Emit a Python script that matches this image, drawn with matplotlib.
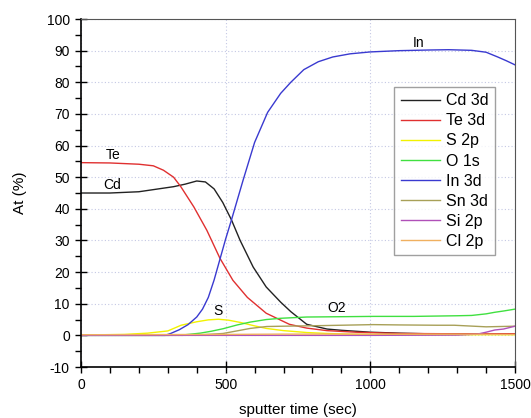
import matplotlib
matplotlib.use("Agg")
import matplotlib.pyplot as plt
from matplotlib.ticker import MultipleLocator

plt.rcParams['font.family'] = ['Liberation Sans', 'DejaVu Sans']
plt.rcParams['axes.unicode_minus'] = False

# sputter time (sec) / atomic %
cd_t = [0, 100, 200, 320, 360, 400, 430, 460, 490, 520, 550, 595, 640, 690, 725, 780, 850, 900, 1000, 1100, 1200, 1300, 1400, 1500]
cd_v = [45, 45, 45.4, 47, 47.8, 48.8, 48.5, 46.3, 42, 36.5, 30, 21.6, 15.3, 10.5, 7.5, 3.5, 2, 1.6, 1, 0.7, 0.5, 0.5, 0.4, 0.4]

te_t = [0, 100, 200, 250, 285, 320, 345, 390, 435, 480, 525, 575, 640, 720, 780, 850, 950, 1100, 1300, 1500]
te_v = [54.6, 54.5, 54.1, 53.6, 52.2, 50, 47, 40.6, 33.2, 24.4, 17.4, 12, 7, 3.5, 2.3, 1.5, 1, 0.6, 0.5, 0.5]

s_t = [0, 150, 230, 300, 346, 400, 440, 475, 510, 550, 600, 640, 700, 780, 850, 950, 1100, 1300, 1500]
s_v = [0.1, 0.3, 0.7, 1.4, 3.2, 4.3, 4.9, 5.1, 4.8, 4.1, 3, 2.2, 1.5, 0.9, 0.6, 0.3, 0.2, 0.2, 0.2]

o_t = [0, 300, 360, 412, 450, 491, 540, 585, 640, 690, 780, 900, 1010, 1150, 1300, 1350, 1400, 1430, 1460, 1500]
o_v = [0, 0, 0.2, 0.7, 1.3, 2.1, 3.3, 4.2, 5, 5.4, 5.8, 5.9, 6.0, 6.0, 6.2, 6.3, 6.8, 7.3, 7.7, 8.3]

in_t = [0, 290, 310, 340, 370, 400, 420, 440, 460, 480, 500, 520, 560, 600, 645, 690, 725, 770, 820, 870, 930, 1000, 1100, 1200, 1270, 1350, 1400, 1440, 1470, 1500]
in_v = [0, 0, 0.6, 1.8, 3.4, 5.8, 8.3, 12, 17.5, 24, 30.5, 36.5, 49, 61, 70.5, 76.5, 80, 84, 86.5, 88, 89, 89.6, 90, 90.2, 90.3, 90.1, 89.5, 88, 86.8, 85.5]

sn_t = [0, 350, 420, 491, 550, 585, 642, 700, 840, 1010, 1100, 1230, 1290, 1400, 1450, 1500]
sn_v = [0, 0, 0.2, 0.6, 1.6, 2.2, 2.8, 2.9, 3.1, 3.4, 3.3, 3.2, 3.2, 2.7, 2.8, 2.9]

si_t = [0, 1000, 1300, 1370, 1400, 1430, 1460, 1500]
si_v = [0, 0, 0.1, 0.4, 1, 1.7, 2.0, 2.9]

cl_t = [0, 500, 700, 1000, 1300, 1500]
cl_v = [0.2, 0.3, 0.4, 0.4, 0.4, 0.3]

fig = plt.figure(figsize=(5.31, 4.18), dpi=100)
ax = fig.add_axes([0.1525, 0.122, 0.8175, 0.8325])

ax.plot(cd_t, cd_v, color='#222222', lw=1.0, label='Cd 3d')
ax.plot(te_t, te_v, color='#e03030', lw=1.0, label='Te 3d')
ax.plot(s_t, s_v, color='#f2f200', lw=1.0, label='S 2p')
ax.plot(o_t, o_v, color='#40e040', lw=1.0, label='O 1s')
ax.plot(in_t, in_v, color='#3a3ad0', lw=1.0, label='In 3d')
ax.plot(sn_t, sn_v, color='#a8a058', lw=1.0, label='Sn 3d')
ax.plot(si_t, si_v, color='#b050b8', lw=1.0, label='Si 2p')
ax.plot(cl_t, cl_v, color='#f0b060', lw=1.0, label='Cl 2p')

# peak labels
ax.text(111, 57, 'Te', fontsize=10, ha='center', va='center')
ax.text(107, 47.5, 'Cd', fontsize=10, ha='center', va='center')
ax.text(1166, 92.5, 'In', fontsize=10, ha='center', va='center')
ax.text(475, 7.6, 'S', fontsize=10, ha='center', va='center')
ax.text(885, 8.5, 'O2', fontsize=10, ha='center', va='center')

ax.set_xlim(0, 1500)
ax.set_ylim(-10, 100)
ax.xaxis.set_major_locator(MultipleLocator(500))
ax.xaxis.set_minor_locator(MultipleLocator(100))
ax.yaxis.set_major_locator(MultipleLocator(10))
ax.yaxis.set_minor_locator(MultipleLocator(5))
ax.tick_params(which='both', top=False, right=False, labelsize=10)
ax.tick_params(which='major', direction='inout', length=9, width=1)
ax.tick_params(which='minor', direction='out', length=4, width=1)
ax.grid(True, which='major', color='#c4c8e4', linestyle=(0, (1, 2)), linewidth=0.8)

for side in ['top', 'right']:
    ax.spines[side].set_color('#555555')
for side in ['left', 'bottom']:
    ax.spines[side].set_linewidth(1.2)

ax.set_xlabel('sputter time (sec)', fontsize=11, labelpad=8)
ax.set_ylabel('At (%)', fontsize=11, labelpad=14)

leg = ax.legend(loc='upper right', bbox_to_anchor=(0.954, 0.805), borderaxespad=0,
                fontsize=11.5, frameon=True, fancybox=False, edgecolor='#888888',
                handlelength=2.5, handletextpad=0.35, labelspacing=0.32, borderpad=0.4)
leg.get_frame().set_linewidth(1.0)

fig.savefig('out.png', dpi=100)
